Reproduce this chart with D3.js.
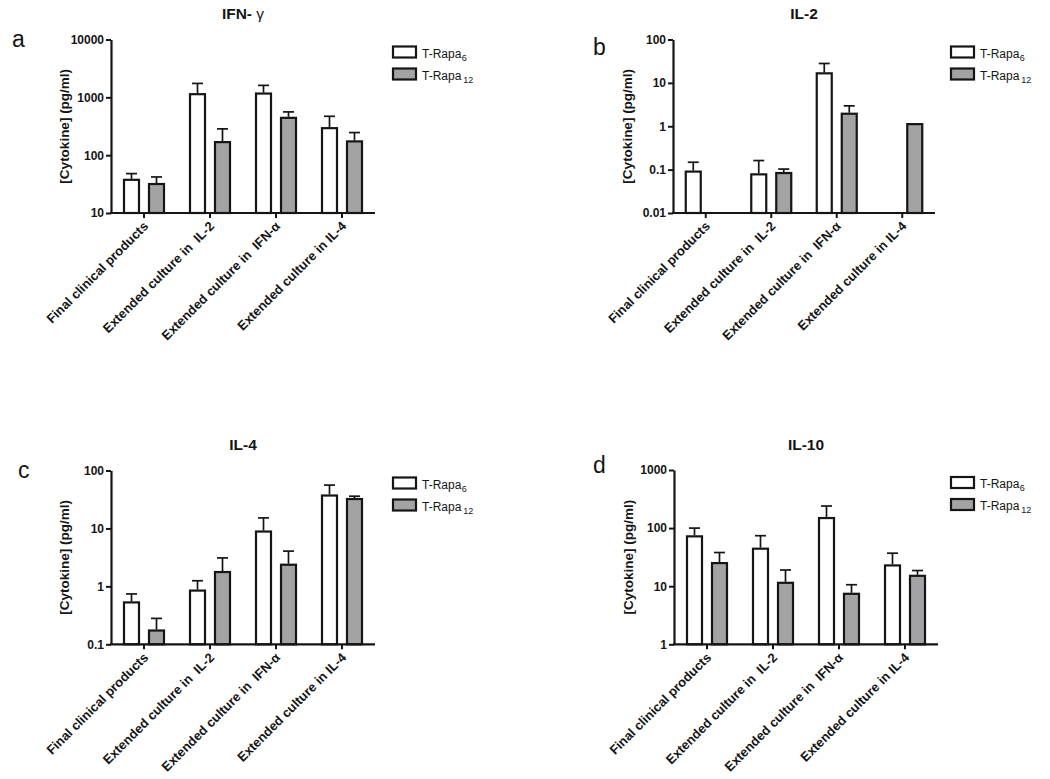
<!DOCTYPE html>
<html><head><meta charset="utf-8">
<script src="https://cdn.jsdelivr.net/npm/d3@7"></script>
<style>
body{margin:0;background:#fff}
svg{display:block}
text{font-family:"Liberation Sans",Arial,Helvetica,sans-serif;fill:#151515}
</style>
</head><body>
<svg id="chart" width="1050" height="779"></svg>
<script>
// ---------- DATA ----------
const categories = ["Final clinical products", "Extended culture in  IL-2", "Extended culture in  IFN-\u03b1", "Extended culture in IL-4"];
const seriesKeys = ["T-Rapa6", "T-Rapa12"];
const seriesBase = ["T-Rapa", "T-Rapa"];
const seriesSub = ["6", "12"];

// IFN-gamma (pg/ml): means and SD (upward error)
const ifngRapa6 = [39, 1180, 1210, 305];
const ifngRapa6Sd = [9, 560, 400, 165];
const ifngRapa12 = [33, 175, 460, 180];
const ifngRapa12Sd = [9, 110, 100, 66];

// IL-2
const il2Rapa6 = [0.095, 0.082, 17.5, null];
const il2Rapa6Sd = [0.053, 0.08, 10.5, null];
const il2Rapa12 = [null, 0.088, 2.05, 1.18];
const il2Rapa12Sd = [null, 0.015, 0.9, 0];

// IL-4
const il4Rapa6 = [0.55, 0.88, 9.2, 38.5];
const il4Rapa6Sd = [0.19, 0.37, 6.0, 17.5];
const il4Rapa12 = [0.18, 1.84, 2.46, 33.5];
const il4Rapa12Sd = [0.10, 1.26, 1.6, 2.5];

// IL-10
const il10Rapa6 = [75, 46, 155, 23.7];
const il10Rapa6Sd = [25, 28, 85, 13.3];
const il10Rapa12 = [26, 11.9, 7.7, 15.7];
const il10Rapa12Sd = [12, 7.1, 2.9, 2.9];

// tick values / labels
const ifngTicks = [10, 100, 1000, 10000];
const ifngTickLabels = ["10", "100", "1000", "10000"];
const il2Ticks = [0.01, 0.1, 1, 10, 100];
const il2TickLabels = ["0.01", "0.1", "1", "10", "100"];
const il4Ticks = [0.1, 1, 10, 100];
const il4TickLabels = ["0.1", "1", "10", "100"];
const il10Ticks = [1, 10, 100, 1000];
const il10TickLabels = ["1", "10", "100", "1000"];

const yLabel = "[Cytokine] (pg/ml)";

// ---------- LAYOUT ----------
const panels = [
  {letter:"a", title:"IFN-", sym:" \u03b3", vals:[ifngRapa6, ifngRapa12], sds:[ifngRapa6Sd, ifngRapa12Sd],
   ticks:ifngTicks, tickLabels:ifngTickLabels, x0:111, x1:375, yTop:39.5, yBot:213, letterX:12, letterY:47, titleY:19, yLabX:65, legX:393},
  {letter:"b", title:"IL-2", sym:"", vals:[il2Rapa6, il2Rapa12], sds:[il2Rapa6Sd, il2Rapa12Sd],
   ticks:il2Ticks, tickLabels:il2TickLabels, x0:673, x1:935, yTop:39.5, yBot:213, letterX:593, letterY:55, titleY:19, yLabX:628, legX:951},
  {letter:"c", title:"IL-4", sym:"", vals:[il4Rapa6, il4Rapa12], sds:[il4Rapa6Sd, il4Rapa12Sd],
   ticks:il4Ticks, tickLabels:il4TickLabels, x0:111, x1:375, yTop:470.5, yBot:644.3, letterX:18, letterY:478, titleY:450, yLabX:65, legX:393},
  {letter:"d", title:"IL-10", sym:"", vals:[il10Rapa6, il10Rapa12], sds:[il10Rapa6Sd, il10Rapa12Sd],
   ticks:il10Ticks, tickLabels:il10TickLabels, x0:674, x1:938, yTop:470, yBot:644.3, letterX:593, letterY:473, titleY:450, yLabX:629, legX:951}
];

const fills = ["#ffffff", "#a3a3a5"];
const ink = "#151515";
const svg = d3.select("#chart");

panels.forEach(p => {
  const g = svg.append("g");
  const x = d3.scaleBand().domain(categories).range([p.x0, p.x1]).padding(0);
  const xs = d3.scaleBand().domain(seriesKeys).range([-21, 21]).paddingInner(0.32);
  const y = d3.scaleLog().domain([p.ticks[0], p.ticks[p.ticks.length-1]]).range([p.yBot, p.yTop]);

  // bars
  seriesKeys.forEach((s, si) => {
    categories.forEach((c, ci) => {
      const v = p.vals[si][ci];
      if (v == null) return;
      const bx = x(c) + x.bandwidth()/2 + xs(s);
      const bw = xs.bandwidth();
      g.append("rect")
        .attr("x", bx + 1).attr("y", y(v) + 1)
        .attr("width", bw - 2).attr("height", Math.max(0, p.yBot - y(v) - 1))
        .attr("fill", fills[si]).attr("stroke", ink).attr("stroke-width", 2.2);
      const sd = p.sds[si][ci];
      if (sd) {
        const cx = bx + bw/2;
        g.append("line").attr("x1", cx).attr("x2", cx).attr("y1", y(v)).attr("y2", y(v + sd))
          .attr("stroke", ink).attr("stroke-width", 1.7);
        g.append("line").attr("x1", cx - 5.5).attr("x2", cx + 5.5).attr("y1", y(v + sd)).attr("y2", y(v + sd))
          .attr("stroke", ink).attr("stroke-width", 1.7);
      }
    });
  });

  // y axis
  const ya = g.append("g").attr("transform", `translate(${p.x0},0)`)
    .call(d3.axisLeft(y).tickValues(p.ticks).tickFormat((d, i) => p.tickLabels[i]).tickSize(5).tickSizeOuter(0).tickPadding(2));
  ya.select(".domain").attr("stroke", ink).attr("stroke-width", 2.2);
  ya.selectAll(".tick line").attr("stroke", ink).attr("stroke-width", 2);
  ya.selectAll(".tick text").attr("font-size", 12).attr("font-weight", "bold").attr("fill", ink)
    .style("font-family", "'Liberation Sans',Arial,sans-serif");

  // x axis
  const xa = g.append("g").attr("transform", `translate(0,${p.yBot})`)
    .call(d3.axisBottom(x).tickSize(5).tickSizeOuter(0).tickFormat(""));
  xa.select(".domain").attr("stroke", ink).attr("stroke-width", 2.2).attr("d", `M${p.x0-1},0H${p.x1}`);
  xa.selectAll(".tick line").attr("stroke", ink).attr("stroke-width", 2);

  // category labels
  categories.forEach(c => {
    const cx = x(c) + x.bandwidth()/2;
    g.append("text")
      .attr("transform", `translate(${cx + 5},${p.yBot + 14}) rotate(-45)`)
      .attr("text-anchor", "end")
      .attr("font-size", 13).attr("font-weight", "bold")
      .style("white-space", "pre")
      .text(c);
  });

  // y label
  g.append("text")
    .attr("transform", `translate(${p.yLabX},${(p.yTop + p.yBot)/2}) rotate(-90)`)
    .attr("text-anchor", "middle").attr("dominant-baseline", "middle")
    .attr("font-size", 13.5).attr("font-weight", "bold").text(yLabel);

  // title
  const t = g.append("text").attr("x", (p.x0 + p.x1)/2).attr("y", p.titleY)
    .attr("text-anchor", "middle").attr("font-size", 15.5).attr("font-weight", "bold").style("white-space", "pre");
  t.append("tspan").text(p.title);
  if (p.sym) t.append("tspan").attr("font-weight", "normal").text(p.sym);

  // panel letter
  g.append("text").attr("x", p.letterX).attr("y", p.letterY).attr("font-size", 23).text(p.letter);

  // legend
  seriesKeys.forEach((s, si) => {
    const ly = p.yTop + 7 + si * 22;
    g.append("rect").attr("x", p.legX).attr("y", ly).attr("width", 23).attr("height", 11)
      .attr("fill", fills[si]).attr("stroke", ink).attr("stroke-width", 2.2);
    const lt = g.append("text").attr("x", p.legX + 29).attr("y", ly + 11).attr("font-size", 12);
    lt.append("tspan").text(seriesBase[si]);
    lt.append("tspan").attr("font-size", 9).attr("dx", si === 1 ? 2 : 0.5).attr("dy", 3).text(seriesSub[si]);
  });
});
</script>
</body></html>
